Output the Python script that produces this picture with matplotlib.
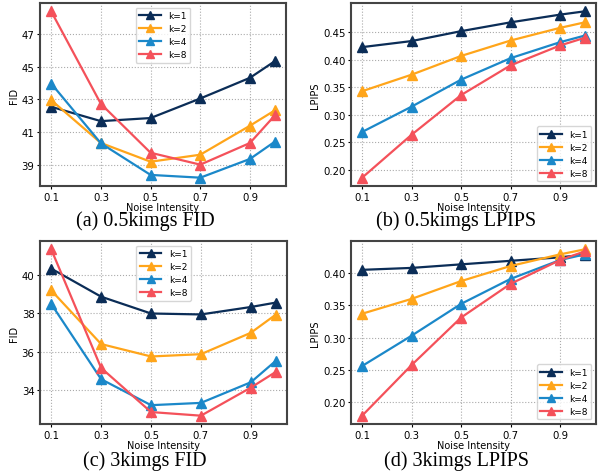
import numpy as np
import matplotlib
matplotlib.use("Agg")
import matplotlib.pyplot as plt

# 横軸（ノイズ強度）
noise = [0.1, 0.3, 0.5, 0.7, 0.9, 1.0]
xticks = [0.1, 0.3, 0.5, 0.7, 0.9]
labels = ["k=1", "k=2", "k=4", "k=8"]
colors = ["#0b2d57", "#ffa51a", "#1b88c9", "#f4515a"]

# (a) 0.5kimgs FID
fid_05k = [
    [42.55, 41.67, 41.86, 43.06, 44.33, 45.35],
    [42.96, 40.33, 39.18, 39.61, 41.39, 42.33],
    [43.98, 40.31, 38.37, 38.20, 39.35, 40.41],
    [48.41, 42.73, 39.73, 39.00, 40.33, 42.02],
]
# (b) 0.5kimgs LPIPS
lpips_05k = [
    [0.423, 0.434, 0.452, 0.468, 0.482, 0.488],
    [0.343, 0.373, 0.407, 0.435, 0.458, 0.468],
    [0.269, 0.315, 0.364, 0.403, 0.432, 0.444],
    [0.186, 0.264, 0.336, 0.390, 0.426, 0.440],
]
# (c) 3kimgs FID
fid_3k = [
    [40.35, 38.88, 38.00, 37.95, 38.34, 38.57],
    [39.21, 36.40, 35.75, 35.87, 36.99, 37.94],
    [38.50, 34.56, 33.20, 33.32, 34.40, 35.52],
    [41.36, 35.15, 32.84, 32.65, 34.12, 34.94],
]
# (d) 3kimgs LPIPS
lpips_3k = [
    [0.405, 0.408, 0.4135, 0.419, 0.4244, 0.4285],
    [0.337, 0.360, 0.3876, 0.411, 0.429, 0.4368],
    [0.256, 0.303, 0.3523, 0.391, 0.4202, 0.429],
    [0.179, 0.2575, 0.3311, 0.3834, 0.4202, 0.4337],
]

panels = [
    (fid_05k, "FID", [39, 41, 43, 45, 47], "%d", "upper center", "(a) 0.5kimgs FID"),
    (lpips_05k, "LPIPS", [0.20, 0.25, 0.30, 0.35, 0.40, 0.45], "%.2f", "lower right", "(b) 0.5kimgs LPIPS"),
    (fid_3k, "FID", [34, 36, 38, 40], "%d", "upper center", "(c) 3kimgs FID"),
    (lpips_3k, "LPIPS", [0.20, 0.25, 0.30, 0.35, 0.40], "%.2f", "lower right", "(d) 3kimgs LPIPS"),
]

W, H = 605, 477
fig = plt.figure(figsize=(W / 100, H / 100), dpi=100)

# 各パネルの位置（ピクセル）: left, top, right, bottom
boxes = [(40, 4, 286, 187), (351, 4, 596, 187), (40, 242, 287, 425), (351, 242, 596, 425)]
caption_pos = [(145, 221), (456, 221), (145, 461), (456, 461)]

for (data, ylabel, yt, fmt, loc, cap), (l, t, r, b), (cx, cy) in zip(panels, boxes, caption_pos):
    ax = fig.add_axes([l / W, 1 - b / H, (r - l) / W, (b - t) / H])
    for vals, lab, c in zip(data, labels, colors):
        ax.plot(noise, vals, marker="^", color=c, label=lab, linewidth=1.6, markersize=7)
    ax.set_xticks(xticks)
    ax.set_xticklabels([str(v) for v in xticks])
    ax.set_yticks(yt)
    ax.set_yticklabels([fmt % v for v in yt])
    ax.tick_params(labelsize=7.3, length=2, pad=2)
    ax.set_xlabel("Noise Intensity", fontsize=7, labelpad=0)
    ax.set_ylabel(ylabel, fontsize=7, labelpad=2)
    ax.grid(True, linestyle=":", color="#aaaaaa", linewidth=0.8)
    for s in ax.spines.values():
        s.set_color("#444444")
        s.set_linewidth(1.5)
    ax.legend(loc=loc, fontsize=6.5, handlelength=2.4, borderpad=0.4,
              labelspacing=0.45, handletextpad=0.8, markerscale=0.85)
    fig.text(cx / W, 1 - cy / H, cap, ha="center", va="center",
             fontsize=14.5, family="Liberation Serif")

fig.savefig("out.png", dpi=100)
